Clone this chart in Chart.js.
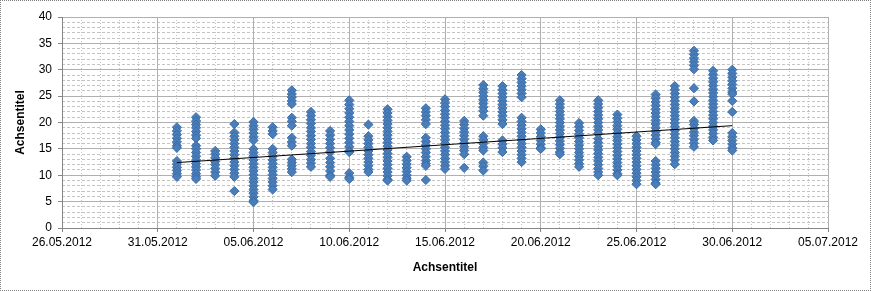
<!DOCTYPE html>
<html>
<head>
<meta charset="utf-8">
<script src="https://cdn.jsdelivr.net/npm/chart.js@4/dist/chart.umd.min.js"></script>
<style>
  body { margin: 0; background: #fff; }
  #box { width: 871px; height: 291px; box-sizing: border-box; border: 1px dotted #808080; }
  canvas { display: block; }
</style>
</head>
<body>
<div id="box"><canvas id="myChart" width="869" height="289"></canvas></div>
<script>
// Tage (x) und Messwerte je Tag (y)
const dates = [
  '01.06.2012', '02.06.2012', '03.06.2012', '04.06.2012', '05.06.2012',
  '06.06.2012', '07.06.2012', '08.06.2012', '09.06.2012', '10.06.2012',
  '11.06.2012', '12.06.2012', '13.06.2012', '14.06.2012', '15.06.2012',
  '16.06.2012', '17.06.2012', '18.06.2012', '19.06.2012', '20.06.2012',
  '21.06.2012', '22.06.2012', '23.06.2012', '24.06.2012', '25.06.2012',
  '26.06.2012', '27.06.2012', '28.06.2012', '29.06.2012', '30.06.2012'
];
const values = [
  [19.1, 18.4, 17.7, 17.0, 16.3, 15.6, 15.2, 12.7, 12.1, 11.5, 10.9, 10.3, 9.7],
  [21.0, 20.3, 19.6, 19.0, 18.3, 17.6, 17.0, 15.6, 15.0, 14.3, 13.6, 12.9, 12.2, 11.6, 11.0, 10.3, 9.7, 9.3],
  [14.6, 14.0, 13.3, 12.6, 12.0, 11.3, 10.6, 9.9],
  [19.7, 18.1, 17.4, 16.7, 16.0, 15.3, 14.6, 13.9, 13.2, 12.5, 11.8, 11.1, 10.4, 9.7, 7.0],
  [20.1, 19.4, 18.7, 18.0, 17.3, 16.6, 15.0, 14.3, 13.6, 12.9, 12.2, 11.5, 10.8, 10.1, 9.4, 8.7, 8.0, 7.3, 6.6, 5.9, 5.2, 4.9],
  [19.1, 18.4, 17.8, 15.0, 14.3, 13.6, 12.9, 12.2, 11.5, 10.8, 10.1, 9.4, 8.7, 8.0, 7.3],
  [26.1, 25.4, 24.8, 24.1, 23.5, 20.9, 20.2, 19.4, 17.1, 16.3, 15.6, 13.0, 12.4, 11.8, 11.2, 10.6],
  [22.0, 21.3, 20.5, 19.8, 19.0, 18.3, 17.5, 16.8, 16.0, 15.3, 14.5, 13.8, 13.0, 12.3, 11.6],
  [18.4, 17.6, 16.8, 16.0, 15.2, 14.4, 13.2, 12.4, 11.6, 10.8, 10.0, 9.7],
  [24.2, 23.4, 22.6, 21.8, 21.0, 20.2, 19.4, 18.6, 17.8, 17.0, 16.2, 15.4, 14.6, 14.4, 10.4, 9.6, 9.3],
  [19.6, 17.4, 16.7, 16.0, 15.3, 14.6, 13.9, 13.2, 12.5, 11.8, 11.1, 10.6],
  [22.5, 21.8, 21.1, 20.4, 19.7, 19.0, 18.3, 17.6, 16.9, 16.2, 15.5, 14.8, 14.1, 13.4, 12.7, 12.0, 11.3, 10.6, 9.9, 9.2, 9.0],
  [13.5, 12.8, 12.1, 11.4, 10.7, 10.0, 9.4, 9.0],
  [22.7, 22.0, 21.3, 20.5, 19.7, 17.1, 16.4, 15.7, 15.0, 14.3, 13.5, 12.8, 12.2, 11.8, 9.1],
  [24.4, 23.7, 23.0, 22.3, 21.6, 20.9, 20.2, 19.5, 18.8, 18.1, 17.4, 16.7, 16.0, 15.3, 14.6, 13.9, 13.2, 12.5, 11.8, 11.2],
  [20.3, 19.6, 18.9, 18.2, 17.5, 16.8, 16.1, 15.4, 14.7, 14.0, 11.4],
  [27.1, 26.4, 25.7, 25.0, 24.3, 23.6, 22.9, 22.2, 21.3, 17.4, 16.7, 16.0, 15.3, 14.7, 12.4, 11.7, 10.9],
  [26.9, 26.2, 25.5, 24.8, 24.1, 23.4, 22.7, 22.0, 21.3, 20.5, 19.7, 16.6, 15.9, 15.2, 14.4],
  [29.0, 28.3, 27.6, 26.9, 26.2, 25.5, 24.8, 20.9, 20.2, 19.5, 18.8, 18.1, 17.4, 16.7, 16.0, 15.3, 14.6, 13.9, 13.2, 12.5],
  [18.7, 18.0, 17.3, 16.6, 15.9, 15.2, 15.0],
  [24.2, 23.5, 22.8, 22.1, 21.4, 20.7, 20.0, 19.3, 18.6, 17.9, 17.2, 16.5, 15.8, 15.1, 14.4, 14.0],
  [19.9, 19.2, 18.5, 17.8, 17.1, 16.4, 15.7, 15.0, 14.3, 13.6, 12.9, 12.2, 11.6],
  [24.2, 23.5, 22.8, 22.1, 21.4, 20.7, 20.0, 19.3, 18.6, 17.9, 16.9, 16.2, 15.5, 14.8, 14.1, 13.4, 12.7, 12.0, 11.3, 10.6, 10.0],
  [21.5, 20.8, 20.1, 19.4, 18.7, 18.0, 17.3, 16.6, 15.9, 15.2, 14.5, 13.8, 13.1, 12.4, 11.7, 11.0, 10.3, 10.0],
  [17.4, 16.7, 16.0, 15.3, 14.6, 13.9, 13.2, 12.5, 11.8, 11.1, 10.4, 9.7, 9.0, 8.3],
  [25.3, 24.6, 23.9, 23.2, 22.5, 21.8, 21.1, 20.4, 19.7, 19.0, 18.3, 17.6, 16.9, 16.2, 15.9, 12.7, 12.0, 11.3, 10.6, 9.9, 9.2, 8.5, 8.3],
  [26.9, 26.2, 25.5, 24.8, 24.1, 23.4, 22.7, 22.0, 21.3, 20.6, 19.9, 19.2, 18.5, 17.8, 17.1, 16.4, 15.7, 15.0, 14.3, 13.6, 12.9, 12.1],
  [33.6, 32.9, 32.2, 31.5, 30.8, 30.1, 26.5, 24.0, 20.3, 19.6, 18.9, 18.2, 17.5, 16.8, 16.1, 15.4],
  [29.8, 29.1, 28.4, 27.7, 27.0, 26.3, 25.6, 24.9, 24.2, 23.5, 22.8, 22.1, 21.4, 20.7, 20.0, 19.3, 18.6, 17.9, 17.2, 16.6],
  [30.0, 29.3, 28.6, 27.9, 27.2, 26.5, 25.8, 25.4, 24.1, 22.0, 18.0, 17.3, 16.6, 15.9, 15.2, 14.7]
];

// lineare Trendlinie (Anfang / Ende)
const trendDates = ['01.06.2012', '30.06.2012'];
const trendValues = [12.4, 19.4];

// Achsenbereich
const xFirst = '26.05.2012';
const xLast = '05.07.2012';
const xStep = 5;
const yMin = 0;
const yMax = 40;
const yStep = 5;

const DAY = 86400000;
const toUtc = (s) => {
  const [d, m, y] = s.split('.').map(Number);
  return Date.UTC(y, m - 1, d);
};
const base = toUtc(xFirst);
const dayOffset = (s) => (toUtc(s) - base) / DAY;
const fmtDate = (v) => {
  const d = new Date(base + v * DAY);
  const p = (n) => String(n).padStart(2, '0');
  return p(d.getUTCDate()) + '.' + p(d.getUTCMonth() + 1) + '.' + d.getUTCFullYear();
};

const points = [];
dates.forEach((dt, i) => {
  values[i].forEach(v => points.push({ x: dayOffset(dt), y: v }));
});
const trend = trendDates.map((dt, i) => ({ x: dayOffset(dt), y: trendValues[i] }));

const font = { family: 'Liberation Sans, Arial, sans-serif', size: 12 };
const boldFont = { family: 'Liberation Sans, Arial, sans-serif', size: 12, weight: 'bold' };
const xMaxVal = dayOffset(xLast);

new Chart(document.getElementById('myChart').getContext('2d'), {
  type: 'scatter',
  data: {
    datasets: [
      {
        type: 'line',
        data: trend,
        borderColor: '#000000',
        borderWidth: 1,
        pointRadius: 0,
        fill: false,
        order: 0
      },
      {
        data: points,
        pointStyle: 'rectRot',
        pointRadius: 4.6,
        backgroundColor: '#4a7ebb',
        borderColor: '#3b6ca6',
        borderWidth: 1,
        order: 1
      }
    ]
  },
  options: {
    responsive: false,
    animation: false,
    layout: { padding: { left: 8, right: 42, top: 16, bottom: 11 } },
    plugins: { legend: { display: false }, tooltip: { enabled: false } },
    scales: {
      xMinor: {
        type: 'linear', position: 'bottom', min: 0, max: xMaxVal,
        ticks: { display: false, stepSize: 1 },
        grid: {
          drawTicks: false,
          color: (c) => (c.tick && c.tick.value % xStep === 0) ? 'rgba(0,0,0,0)' : '#c4c4c4'
        },
        border: { display: false, dash: [1, 2] },
        afterFit: (s) => { s.height = 0; }
      },
      yMinor: {
        type: 'linear', position: 'left', min: yMin, max: yMax,
        ticks: { display: false, stepSize: 1 },
        grid: {
          drawTicks: false,
          color: (c) => (c.tick && c.tick.value % yStep === 0) ? 'rgba(0,0,0,0)' : '#c4c4c4'
        },
        border: { display: false, dash: [3, 2] },
        afterFit: (s) => { s.width = 0; }
      },
      x: {
        type: 'linear', position: 'bottom', min: 0, max: xMaxVal,
        ticks: { stepSize: xStep, callback: (v) => fmtDate(v), font, color: '#000', maxRotation: 0, padding: 3 },
        grid: { color: '#b0b0b0', tickLength: 4, tickColor: '#868686' },
        border: { color: '#868686' },
        title: { display: true, text: 'Achsentitel', font: boldFont, color: '#000', padding: 4 },
        afterFit: (s) => { s.height = 51; }
      },
      y: {
        type: 'linear', position: 'left', min: yMin, max: yMax,
        ticks: { stepSize: yStep, font, color: '#000', padding: 6 },
        grid: { color: '#b0b0b0', tickLength: 4, tickColor: '#868686' },
        border: { color: '#868686' },
        title: { display: true, text: 'Achsentitel', font: boldFont, color: '#000', padding: 4 },
        afterFit: (s) => { s.width = 53; }
      }
    }
  }
});
</script>
</body>
</html>
